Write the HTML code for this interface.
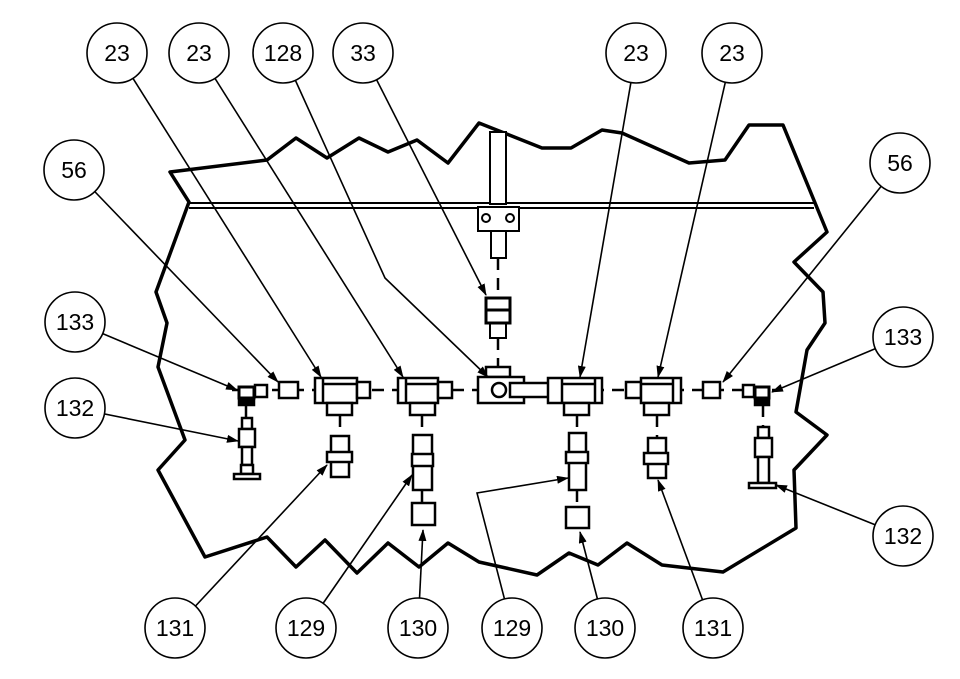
<!DOCTYPE html>
<html><head><meta charset="utf-8"><style>html,body{margin:0;padding:0;background:#fff}svg{display:block}</style></head><body>
<svg width="960" height="679" viewBox="0 0 960 679" xmlns="http://www.w3.org/2000/svg">
<defs><marker id="a" markerWidth="12" markerHeight="8" refX="11" refY="4" orient="auto" markerUnits="userSpaceOnUse"><path d="M0,0 L12,4 L0,8 z" fill="#000"/></marker></defs>
<rect width="960" height="679" fill="#fff"/>
<polygon fill="none" stroke="#000" stroke-width="3.5" stroke-linejoin="round" points="170,172 267,160 296,138 327,158 359,138 388,152 417,140 448,163 479,123 542,148 571,148 602,130 622,133 689,163 725,160 749,125 783,125 827,232 794,262 823,292 825,323 807,350 796,412 827,435 794,470 796,528 723,572 662,565 627,543 598,565 569,553 537,575 479,562 448,543 419,567 388,543 357,573 325,540 296,567 267,537 205,557 158,470 185,440 158,367 167,323 156,292 189,202"/>
<g stroke="#000" stroke-width="2" fill="none">
<line x1="189" y1="203" x2="814" y2="203"/><line x1="189" y1="208" x2="814" y2="208"/>
<rect x="490" y="132" width="16" height="72" fill="#fff"/>
<rect x="478" y="207" width="41" height="24" fill="#fff"/>
<circle cx="486" cy="218" r="4"/><circle cx="510" cy="218" r="4"/>
<rect x="491" y="231" width="15" height="27"/>
<rect x="486" y="298" width="24" height="25" stroke-width="3"/><line x1="486" y1="310" x2="510" y2="310" stroke-width="3"/>
<rect x="490" y="323" width="16" height="15"/>
</g>
<g stroke="#000" stroke-width="2.5" stroke-dasharray="12,8" fill="none">
<line x1="498" y1="258" x2="498" y2="298"/><line x1="498" y1="338" x2="498" y2="368"/>
<line x1="232" y1="390" x2="775" y2="390"/>
<line x1="246" y1="405" x2="246" y2="420"/><line x1="340" y1="415" x2="340" y2="436"/><line x1="422" y1="415" x2="422" y2="436"/><line x1="422" y1="490" x2="422" y2="503"/>
<line x1="577" y1="415" x2="577" y2="433"/><line x1="577" y1="490" x2="577" y2="507"/><line x1="657" y1="415" x2="657" y2="438"/><line x1="763" y1="405" x2="763" y2="427"/>
</g>
<g stroke="#000" stroke-width="2.5" fill="#fff">
<rect x="239" y="387" width="15" height="11" stroke-width="3"/><rect x="255" y="385" width="12" height="12"/><rect x="239" y="398" width="15" height="7" fill="#000"/>
<rect x="242" y="418" width="10" height="11"/><rect x="239" y="429" width="16" height="18"/><rect x="242" y="447" width="10" height="18"/><rect x="241" y="465" width="12" height="9"/><rect x="234" y="474" width="26" height="5"/>
<rect x="279" y="382" width="19" height="16"/>
<rect x="315" y="378" width="42" height="25"/><line x1="323" y1="378" x2="323" y2="403"/><line x1="323" y1="384" x2="357" y2="384"/><rect x="357" y="382" width="13" height="16"/><rect x="327" y="403" width="25" height="12"/>
<rect x="331" y="436" width="18" height="41"/><rect x="327" y="452" width="25" height="10"/>
<rect x="398" y="378" width="40" height="25"/><line x1="406" y1="378" x2="406" y2="403"/><line x1="406" y1="384" x2="438" y2="384"/><rect x="438" y="382" width="14" height="16"/><rect x="410" y="403" width="25" height="12"/>
<rect x="413" y="435" width="19" height="55"/><rect x="412" y="454" width="21" height="12"/><rect x="412" y="503" width="23" height="22"/>
<rect x="486" y="367" width="24" height="10"/><rect x="478" y="377" width="46" height="26"/><circle cx="499" cy="390" r="7"/><rect x="510" y="383" width="50" height="14"/>
<rect x="548" y="378" width="54" height="25"/><line x1="562" y1="378" x2="562" y2="403"/><line x1="595" y1="378" x2="595" y2="403"/><line x1="562" y1="384" x2="595" y2="384"/><rect x="564" y="403" width="25" height="12"/>
<rect x="569" y="433" width="17" height="57"/><rect x="566" y="452" width="22" height="11"/><rect x="566" y="507" width="23" height="21"/>
<rect x="626" y="382" width="15" height="16"/><rect x="641" y="378" width="40" height="25"/><line x1="673" y1="378" x2="673" y2="403"/><line x1="641" y1="384" x2="673" y2="384"/><rect x="644" y="403" width="25" height="12"/>
<rect x="648" y="438" width="18" height="40"/><rect x="644" y="453" width="24" height="11"/>
<rect x="703" y="382" width="17" height="16"/>
<rect x="743" y="385" width="11" height="12"/><rect x="755" y="387" width="14" height="11" stroke-width="3"/><rect x="755" y="398" width="14" height="7" fill="#000"/>
<rect x="758" y="427" width="11" height="11"/><rect x="755" y="438" width="17" height="19"/><rect x="758" y="457" width="11" height="26"/><rect x="749" y="483" width="27" height="5"/>
</g>
<g stroke="#000" stroke-width="1.6" fill="none" marker-end="url(#a)">
<line x1="117" y1="53" x2="321" y2="377"/>
<line x1="199" y1="53" x2="403" y2="377"/>
<polyline points="283,53 385,278 488,377"/>
<line x1="363" y1="53" x2="486" y2="295"/>
<line x1="636" y1="53" x2="580" y2="377"/>
<line x1="732" y1="53" x2="658" y2="377"/>
<line x1="74" y1="170" x2="278" y2="382"/>
<line x1="900" y1="163" x2="723" y2="382"/>
<line x1="75" y1="322" x2="237" y2="390"/>
<line x1="903" y1="337" x2="772" y2="392"/>
<line x1="75" y1="408" x2="238" y2="441"/>
<line x1="903" y1="536" x2="776" y2="485"/>
<line x1="175" y1="628" x2="327" y2="465"/>
<line x1="306" y1="628" x2="412" y2="475"/>
<line x1="418" y1="628" x2="423" y2="530"/>
<polyline points="512,628 477,493 568,478"/>
<line x1="605" y1="628" x2="580" y2="532"/>
<line x1="713" y1="628" x2="658" y2="480"/>
</g>
<g stroke="#000" stroke-width="1.6" fill="#fff" font-family="Liberation Sans, sans-serif" font-size="23">
<circle cx="117" cy="53" r="30"/><circle cx="199" cy="53" r="30"/><circle cx="283" cy="53" r="30"/><circle cx="363" cy="53" r="30"/><circle cx="636" cy="53" r="30"/><circle cx="732" cy="53" r="30"/>
<circle cx="74" cy="170" r="30"/><circle cx="900" cy="163" r="30"/><circle cx="75" cy="322" r="30"/><circle cx="903" cy="337" r="30"/><circle cx="75" cy="408" r="30"/><circle cx="903" cy="536" r="30"/>
<circle cx="175" cy="628" r="30"/><circle cx="306" cy="628" r="30"/><circle cx="418" cy="628" r="30"/><circle cx="512" cy="628" r="30"/><circle cx="605" cy="628" r="30"/><circle cx="713" cy="628" r="30"/>
</g>
<g font-family="Liberation Sans, sans-serif" font-size="23" text-anchor="middle" fill="#000">
<text x="117" y="61">23</text><text x="199" y="61">23</text><text x="283" y="61">128</text><text x="363" y="61">33</text><text x="636" y="61">23</text><text x="732" y="61">23</text>
<text x="74" y="178">56</text><text x="900" y="171">56</text><text x="75" y="330">133</text><text x="903" y="345">133</text><text x="75" y="416">132</text><text x="903" y="544">132</text>
<text x="175" y="636">131</text><text x="306" y="636">129</text><text x="418" y="636">130</text><text x="512" y="636">129</text><text x="605" y="636">130</text><text x="713" y="636">131</text>
</g>
</svg>
</body></html>
